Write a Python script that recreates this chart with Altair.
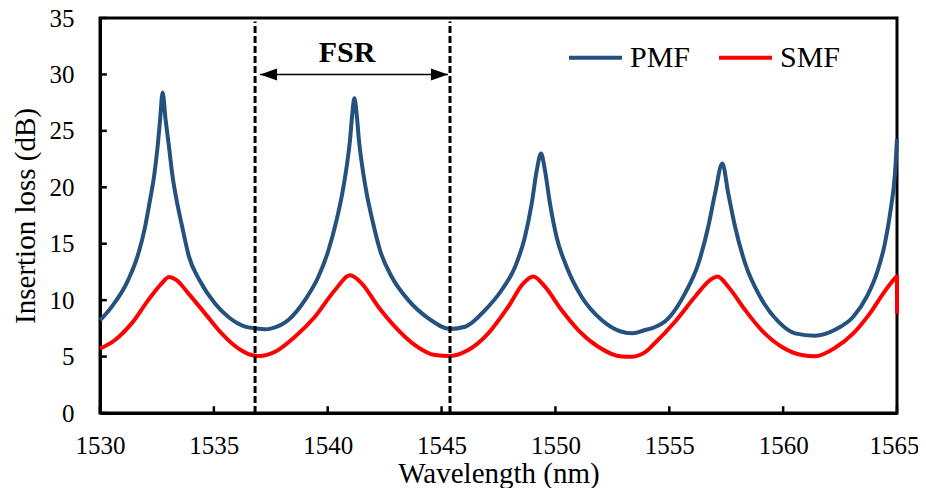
import altair as alt
import pandas as pd

# ---------------- data ----------------
PMF_WL = [1530.0, 1530.51, 1531.24, 1531.68, 1531.98, 1532.2, 1532.39, 1532.53, 1532.64, 1532.75,
          1532.88, 1533.03, 1533.17, 1533.36, 1533.61, 1533.9, 1534.39, 1535.05, 1535.64, 1536.37,
          1536.81, 1537.25, 1537.54, 1538.27, 1539.0, 1539.59, 1540.03, 1540.39, 1540.64, 1540.83,
          1540.98, 1541.08, 1541.17, 1541.27, 1541.37, 1541.52, 1541.71, 1541.96, 1542.3, 1542.81,
          1543.54, 1544.42, 1545.37, 1546.03, 1546.91, 1547.64, 1548.23, 1548.66, 1548.96, 1549.18,
          1549.37, 1549.54, 1549.76, 1550.05, 1550.49, 1551.15, 1552.03, 1552.91, 1553.4, 1553.94,
          1554.22, 1554.96, 1555.69, 1556.28, 1556.71, 1557.01, 1557.33, 1557.59, 1557.89, 1558.33,
          1558.99, 1559.79, 1560.52, 1561.4, 1562.3, 1563.08, 1563.67, 1564.11, 1564.47, 1564.72,
          1564.91, 1565.0]
PMF_IL = [8.2, 9.4, 11.8, 14.1, 16.5, 18.9, 21.2, 23.6, 26.0, 28.4,
          26.0, 23.6, 21.2, 18.9, 16.5, 13.9, 11.7, 9.7, 8.5, 7.65,
          7.5, 7.42, 7.5, 8.24, 10.0, 12.07, 14.4, 17.1, 19.46, 21.8,
          24.2, 26.5, 27.9, 26.5, 24.2, 21.8, 19.46, 17.1, 14.4, 12.07,
          10.0, 8.39, 7.45, 7.64, 9.12, 10.9, 12.96, 15.6, 18.57, 21.5,
          23.0, 21.5, 18.57, 15.6, 12.96, 10.3, 8.24, 7.2, 7.06, 7.35,
          7.5, 8.39, 10.6, 13.26, 16.5, 19.46, 22.1, 19.46, 16.5, 13.26,
          10.3, 8.09, 7.06, 6.85, 7.4, 8.53, 10.3, 12.37, 15.03, 17.98,
          21.2, 24.3]

SMF_WL = [1530.0, 1530.66, 1531.39, 1532.12, 1532.71, 1533.03, 1533.36, 1533.88, 1534.61, 1535.34,
          1536.07, 1536.66, 1537.0, 1537.69, 1538.56, 1539.44, 1540.32, 1540.98, 1541.49, 1542.22,
          1542.96, 1543.83, 1544.71, 1545.37, 1546.17, 1547.05, 1547.93, 1548.59, 1549.03, 1549.54,
          1550.27, 1551.0, 1551.88, 1552.91, 1553.3, 1553.94, 1554.37, 1555.25, 1556.13, 1556.79,
          1557.12, 1557.59, 1558.33, 1559.05, 1559.93, 1560.81, 1561.4, 1562.3, 1563.08, 1563.81,
          1564.4, 1564.84, 1565.0, 1565.0]
SMF_IL = [5.7, 6.47, 7.94, 10.0, 11.49, 12.05, 11.78, 10.6, 8.83, 7.06,
          5.73, 5.14, 5.05, 5.43, 6.76, 8.53, 10.9, 12.2, 11.49, 9.42,
          7.64, 6.02, 5.14, 5.05, 5.58, 7.06, 9.42, 11.49, 12.1, 11.19,
          9.12, 7.35, 5.87, 5.0, 4.98, 5.4, 6.2, 8.09, 10.3, 11.78,
          12.1, 11.19, 9.12, 7.35, 5.87, 5.14, 5.02, 5.8, 7.06, 8.83,
          10.6, 11.78, 12.1, 8.8]

SERIES = ["PMF", "SMF"]
COLORS = ["#24517E", "#FF0000"]
X_TICKS = [1530, 1535, 1540, 1545, 1550, 1555, 1560, 1565]
Y_TICKS = [0, 5, 10, 15, 20, 25, 30, 35]
FSR_BOUNDS = [1536.81, 1545.37]
FSR_ARROW_X = [1537.03, 1545.28]
FSR_ARROW_Y = 30.0
FSR_LABEL = "FSR"
FSR_LABEL_POS = (1540.85, 31.1)

SERIF = "Liberation Serif"

rows = []
for name, wl, il in [("PMF", PMF_WL, PMF_IL), ("SMF", SMF_WL, SMF_IL)]:
    for i, (a, b) in enumerate(zip(wl, il)):
        rows.append({"series": name, "wl": a, "il": b, "i": i})
df = pd.DataFrame(rows)

xs = alt.Scale(domain=[1530, 1565], nice=False, zero=False)
ys = alt.Scale(domain=[0, 35], nice=False, zero=False)

x_axis = alt.Axis(values=X_TICKS, title="Wavelength (nm)", grid=False, ticks=False, tickSize=0,
                  labelFont=SERIF, labelFontSize=25, labelColor="black", labelPadding=20,
                  labelOffset={"condition": {"test": "datum.value == 1565", "value": -3}, "value": 0},
                  labelFlush=False, labelOverlap=False, domainColor="black", domainWidth=3,
                  titleFont=SERIF, titleFontSize=29, titleFontWeight="normal", titleColor="black",
                  titlePadding=1, format="d")
y_axis = alt.Axis(values=Y_TICKS, title="Insertion loss (dB)", grid=False, ticks=False, tickSize=0,
                  labelFont=SERIF, labelFontSize=25, labelColor="black", labelPadding=26,
                  labelOverlap=False, domainColor="black", domainWidth=3,
                  titleFont=SERIF, titleFontSize=29, titleFontWeight="normal", titleColor="black",
                  titlePadding=9)


def X(field):
    return alt.X(field, scale=xs, axis=x_axis)


def Y(field):
    return alt.Y(field, scale=ys, axis=y_axis)


lines = alt.Chart(df).mark_line(strokeWidth=4, interpolate="monotone").encode(
    x=X("wl:Q"),
    y=Y("il:Q"),
    color=alt.Color("series:N", scale=alt.Scale(domain=SERIES, range=COLORS),
                    legend=alt.Legend(title=None, orient="none", legendX=467, legendY=11,
                                      direction="horizontal", symbolType="stroke", symbolSize=2809,
                                      symbolStrokeWidth=4, labelFont=SERIF, labelFontSize=30,
                                      labelColor="black", labelOffset=6, columnPadding=20,
                                      padding=0)),
    order=alt.Order("i:Q"),
)

# inward tick marks
xt = pd.DataFrame({"x": X_TICKS, "y0": [0] * len(X_TICKS), "y1": [0.6] * len(X_TICKS)})
yt = pd.DataFrame({"y": Y_TICKS, "x0": [1530] * len(Y_TICKS), "x1": [1530.3] * len(Y_TICKS)})
xticks = alt.Chart(xt).mark_rule(color="black", strokeWidth=2.5).encode(
    x=X("x:Q"), y=Y("y0:Q"), y2="y1:Q")
yticks = alt.Chart(yt).mark_rule(color="black", strokeWidth=2.5).encode(
    y=Y("y:Q"), x=X("x0:Q"), x2="x1:Q")

dashed = alt.Chart(pd.DataFrame({"x": FSR_BOUNDS, "y0": [0, 0], "y1": [34.7, 34.7]})).mark_rule(
    color="black", strokeWidth=3, strokeDash=[7, 3]).encode(
    x=X("x:Q"), y=Y("y0:Q"), y2="y1:Q")

arrow = alt.Chart(pd.DataFrame({"x0": [FSR_ARROW_X[0]], "x1": [FSR_ARROW_X[1]], "y": [FSR_ARROW_Y]})).mark_rule(
    color="black", strokeWidth=1.5).encode(
    x=X("x0:Q"), x2="x1:Q", y=Y("y:Q"))

head_l = alt.Chart(pd.DataFrame({"x": [FSR_ARROW_X[0]], "y": [FSR_ARROW_Y]})).mark_point(
    shape="M0,0L1.7,-0.6L1.7,0.6Z", filled=True, color="black", size=400, opacity=1).encode(
    x=X("x:Q"), y=Y("y:Q"))
head_r = alt.Chart(pd.DataFrame({"x": [FSR_ARROW_X[1]], "y": [FSR_ARROW_Y]})).mark_point(
    shape="M0,0L-1.7,-0.6L-1.7,0.6Z", filled=True, color="black", size=400, opacity=1).encode(
    x=X("x:Q"), y=Y("y:Q"))

fsr_text = alt.Chart(pd.DataFrame({"x": [FSR_LABEL_POS[0]], "y": [FSR_LABEL_POS[1]], "t": [FSR_LABEL]})).mark_text(
    font=SERIF, fontSize=30, fontWeight="bold", color="black", align="center", baseline="alphabetic").encode(
    x=X("x:Q"), y=Y("y:Q"), text="t:N")

chart = alt.layer(lines, xticks, yticks, dashed, arrow, head_l, head_r, fsr_text).properties(
    width=797, height=395,
    autosize=alt.AutoSizeParams(type="none"),
    padding={"left": 92, "top": 10, "right": 21, "bottom": 75},
).configure(
    background="white",
    view=alt.ViewConfig(stroke="black", strokeWidth=3, strokeOpacity=1),
    axis=alt.AxisConfig(domainWidth=3, domainColor="black"),
)

chart.save("out.html", embed_options={"renderer": "svg", "actions": False})
